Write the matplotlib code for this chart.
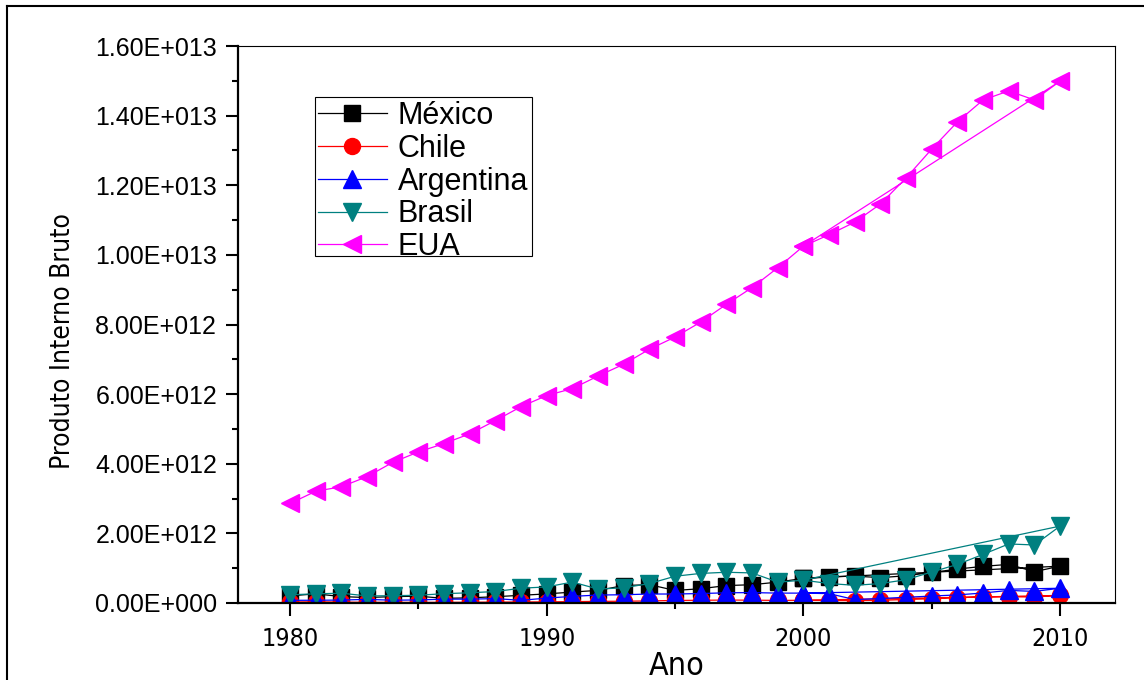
import matplotlib
matplotlib.use("Agg")
import matplotlib.pyplot as plt
from matplotlib.ticker import FuncFormatter, MultipleLocator
from matplotlib.lines import Line2D
from matplotlib.patches import Rectangle
from matplotlib import font_manager

years = list(range(1980, 2011))

mexico = [0.205, 0.263, 0.185, 0.156, 0.184, 0.195, 0.134, 0.148, 0.181, 0.221,
          0.262, 0.314, 0.363, 0.501, 0.527, 0.360, 0.411, 0.500, 0.526, 0.600,
          0.708, 0.756, 0.772, 0.729, 0.782, 0.877, 0.975, 1.053, 1.109, 0.900, 1.058]
chile = [0.029, 0.035, 0.025, 0.020, 0.019, 0.017, 0.019, 0.021, 0.026, 0.029,
         0.033, 0.039, 0.047, 0.051, 0.060, 0.074, 0.078, 0.085, 0.081, 0.075,
         0.078, 0.071, 0.070, 0.076, 0.100, 0.123, 0.154, 0.173, 0.179, 0.172, 0.218]
argentina = [0.077, 0.079, 0.084, 0.104, 0.080, 0.088, 0.110, 0.111, 0.126, 0.077,
             0.141, 0.190, 0.229, 0.237, 0.258, 0.258, 0.272, 0.293, 0.299, 0.284,
             0.284, 0.269, 0.098, 0.128, 0.165, 0.199, 0.233, 0.287, 0.362, 0.333, 0.424]
brasil = [0.235, 0.264, 0.281, 0.203, 0.209, 0.223, 0.268, 0.294, 0.330, 0.425,
          0.462, 0.602, 0.400, 0.437, 0.558, 0.769, 0.850, 0.883, 0.864, 0.599,
          0.655, 0.559, 0.508, 0.558, 0.669, 0.891, 1.107, 1.397, 1.696, 1.667, 2.209]
eua = [2.86, 3.21, 3.34, 3.63, 4.04, 4.34, 4.58, 4.86, 5.24, 5.64,
       5.96, 6.16, 6.52, 6.86, 7.29, 7.64, 8.07, 8.58, 9.06, 9.63,
       10.25, 10.58, 10.94, 11.46, 12.21, 13.04, 13.82, 14.45, 14.71, 14.45, 14.99]

labels = ["México", "Chile", "Argentina", "Brasil", "EUA"]
series = [mexico, chile, argentina, brasil, eua]
colors = ["#000000", "#FF0000", "#0000FF", "#008080", "#FF00FF"]
markers = ["s", "o", "^", "v", "<"]
msizes = [11, 11.5, 12.5, 12.5, 13]
SCALE = 1e12
# the source sheet repeats the 2000 row after 2010 (draws a 2000-2010 chord)
repeat_idx = years.index(2000)

# look for a condensed sans font
cond_family = None
cond_stretch = "normal"
for f in font_manager.fontManager.ttflist:
    if f.name in ("Liberation Sans Narrow", "Arial Narrow"):
        cond_family = f.name
        break
if cond_family is None:
    for f in font_manager.fontManager.ttflist:
        if f.name == "DejaVu Sans" and "Condensed" in f.fname:
            cond_family = "DejaVu Sans"
            cond_stretch = "condensed"
            break
if cond_family is None:
    narrow = dict(family=["Liberation Sans", "DejaVu Sans"])
    nscale = 0.85
else:
    narrow = dict(family=[cond_family, "DejaVu Sans"], stretch=cond_stretch)
    nscale = 1.0
regular = ["Liberation Sans", "DejaVu Sans"]

W, H = 1144, 680
fig = plt.figure(figsize=(W / 100, H / 100), dpi=100)
ax = fig.add_axes([238 / W, 1 - 603 / H, (1115 - 238) / W, (603 - 46) / H])

for lab, vals, c, m, ms in zip(labels, series, colors, markers, msizes):
    xs = years + [years[repeat_idx]]
    ys = [v * SCALE for v in vals] + [vals[repeat_idx] * SCALE]
    ax.plot(xs, ys, color=c, lw=0.9, marker=m, ms=ms, mfc=c, mec=c, label=lab)

ax.set_xlim(1977.97, 2012.14)
ax.set_ylim(0, 1.6e13)
ax.xaxis.set_major_locator(MultipleLocator(10))
ax.xaxis.set_minor_locator(MultipleLocator(5))
ax.yaxis.set_major_locator(MultipleLocator(2e12))
ax.yaxis.set_minor_locator(MultipleLocator(1e12))


def sci(v, pos):
    if v == 0:
        return "0.00E+000"
    s = "%.2E" % v
    mant, exp = s.split("E")
    sign = exp[0]
    return "%sE%s%03d" % (mant, sign, abs(int(exp)))


ax.yaxis.set_major_formatter(FuncFormatter(sci))
ax.tick_params(axis="both", which="major", direction="out", length=9, width=1.5, color="black")
ax.tick_params(axis="both", which="minor", direction="out", length=4.5, width=1.5, color="black")
ax.tick_params(top=False, right=False, which="both")
ax.tick_params(axis="y", pad=6)
ax.tick_params(axis="x", pad=8)
for t in ax.get_yticklabels():
    t.set_fontfamily(regular)
    t.set_fontsize(18)
for t in ax.get_xticklabels():
    t.set_fontproperties(font_manager.FontProperties(size=18 * nscale, **narrow))

ax.spines["left"].set_linewidth(1.6)
ax.spines["bottom"].set_linewidth(1.6)
ax.spines["top"].set_linewidth(0.8)
ax.spines["right"].set_linewidth(0.8)

ax.set_ylabel("Produto Interno Bruto", fontproperties=font_manager.FontProperties(size=19 * nscale, **narrow))
ax.yaxis.set_label_coords(-(238 - 76) / 877, (603 - 341) / 557)
ax.set_xlabel("Ano", fontproperties=font_manager.FontProperties(size=23 * nscale, **narrow), va="bottom")
ax.xaxis.set_label_coords(0.5, -(682 - 603) / 557)

leg = ax.legend(loc="upper left", bbox_to_anchor=((315 - 238) / 877, (603 - 98) / 557),
                frameon=False, prop={"family": regular, "size": 22}, handlelength=2.25,
                borderpad=0.1, labelspacing=0.09, handletextpad=0.35, borderaxespad=0)

# legend box (Origin draws it tight around the entries)
fig.add_artist(Rectangle((315 / W, 1 - 256 / H), (532 - 315) / W, (256 - 97) / H,
                         transform=fig.transFigure, fill=False, ec="black", lw=0.8))

# outer frame of the exported page
fx = 7 / W
fy = 1 - 6 / H
fig.add_artist(Line2D([fx, fx], [0, fy], transform=fig.transFigure, color="black", lw=1.5))
fig.add_artist(Line2D([fx, 1], [fy, fy], transform=fig.transFigure, color="black", lw=1.5))

fig.savefig("out.png", dpi=100)
